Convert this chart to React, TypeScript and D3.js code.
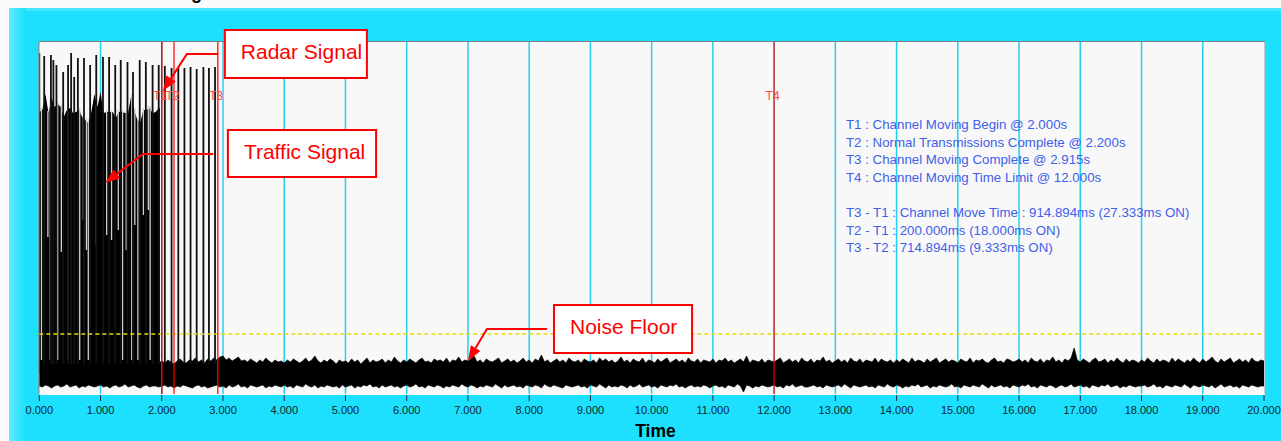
import React from 'react';
import * as d3 from 'd3';

const W = 1281;
const H = 441;

// x axis: time in seconds
const xTicks = [0, 1, 2, 3, 4, 5, 6, 7, 8, 9, 10, 11, 12, 13, 14, 15, 16, 17, 18, 19, 20];

// level of the dashed detection threshold (arbitrary level units, 0..352)
const thresholdLevel = 60;

// time markers
const markerNames = ['T1', 'T2', 'T3', 'T4'];
const markerTimes = [2.0, 2.2, 2.915, 12.0];
const markerOpacity = [1, 0.8, 0.85, 0.75];

// noise floor envelope, one sample every 0.05 s from 0 to 20 s
const noiseStep = 0.05;
const noiseTop = [
  31, 33, 30, 32, 34, 31, 30, 33, 32, 31, 34, 30, 32, 33, 31, 30, 32, 35, 31, 33,
  30, 32, 34, 31, 33, 30, 32, 31, 35, 32, 30, 33, 31, 34, 32, 30, 31, 33, 32, 31,
  33, 31, 34, 32, 30, 33, 35, 32, 31, 34, 33, 36, 32, 34, 31, 35, 33, 36, 34, 37,
  38, 34, 36, 33, 35, 37, 33, 34, 32, 35, 33, 31, 34, 32, 36, 33, 31, 34, 32, 33,
  31, 34, 32, 35, 33, 31, 33, 36, 32, 34, 38, 33, 31, 34, 32, 35, 33, 30, 34, 32,
  33, 31, 35, 32, 34, 30, 33, 36, 31, 34, 32, 33, 35, 31, 34, 32, 37, 33, 31, 34,
  32, 35, 33, 31, 34, 36, 32, 33, 31, 35, 33, 34, 32, 36, 31, 34, 33, 37, 32, 34,
  33, 35, 38, 32, 34, 31, 35, 33, 32, 34, 36, 31, 33, 35, 32, 34, 31, 33, 36, 32,
  34, 31, 35, 33, 39, 32, 34, 31, 33, 35, 32, 34, 31, 36, 33, 32, 34, 31, 35, 33,
  32, 34, 31, 36, 33, 35, 32, 34, 31, 33, 37, 32, 34, 31, 35, 33, 32, 36, 31, 34,
  33, 31, 35, 32, 34, 36, 31, 33, 35, 32, 34, 31, 36, 33, 32, 35, 31, 34, 33, 32,
  35, 31, 34, 33, 36, 32, 34, 31, 33, 35, 32, 38, 31, 34, 33, 32, 35, 31, 34, 33,
  32, 34, 36, 31, 33, 35, 32, 34, 31, 36, 33, 32, 35, 31, 34, 33, 37, 32, 34, 31,
  33, 35, 32, 34, 31, 36, 33, 32, 35, 31, 34, 33, 32, 36, 31, 35, 33, 32, 34, 31,
  34, 32, 35, 33, 31, 36, 32, 34, 33, 31, 35, 32, 34, 36, 31, 33, 35, 32, 34, 33,
  31, 35, 33, 32, 36, 31, 34, 33, 35, 32, 31, 34, 36, 32, 33, 31, 35, 34, 32, 33,
  35, 32, 34, 31, 36, 33, 32, 35, 31, 34, 33, 37, 32, 34, 31, 35, 33, 36, 46, 34,
  32, 35, 33, 31, 34, 36, 32, 33, 35, 31, 34, 32, 36, 33, 31, 35, 32, 34, 33, 31,
  34, 32, 36, 33, 31, 35, 32, 34, 33, 31, 36, 32, 35, 33, 31, 34, 32, 36, 33, 31,
  35, 32, 34, 37, 33, 31, 35, 32, 34, 36, 31, 33, 35, 32, 34, 31, 36, 33, 32, 34,
  33,
];
const noiseBottom = [
  8, 7, 9, 8, 6, 8, 9, 7, 8, 10, 7, 8, 9, 6, 8, 7, 9, 8, 7, 8,
  9, 7, 8, 6, 8, 9, 7, 8, 10, 7, 8, 9, 7, 6, 8, 9, 7, 8, 8, 7,
  8, 9, 7, 8, 6, 8, 7, 9, 8, 7, 6, 8, 9, 7, 8, 6, 7, 8, 9, 7,
  8, 6, 9, 7, 8, 10, 7, 8, 6, 9, 8, 7, 8, 9, 6, 8, 7, 9, 8, 7,
  9, 7, 8, 6, 9, 8, 7, 10, 8, 7, 9, 6, 8, 7, 9, 8, 7, 8, 6, 9,
  7, 8, 9, 6, 8, 7, 9, 8, 10, 7, 8, 6, 9, 7, 8, 9, 7, 8, 6, 8,
  9, 7, 8, 10, 7, 8, 6, 9, 8, 7, 9, 8, 6, 8, 7, 9, 8, 7, 10, 8,
  7, 9, 8, 6, 8, 7, 9, 8, 7, 10, 8, 6, 9, 7, 8, 9, 7, 8, 6, 9,
  8, 7, 9, 8, 6, 10, 8, 7, 9, 8, 7, 6, 9, 8, 7, 8, 9, 7, 8, 6,
  9, 8, 7, 10, 8, 6, 9, 7, 8, 7, 9, 8, 6, 9, 7, 8, 10, 7, 8, 9,
  7, 8, 6, 9, 8, 7, 9, 8, 10, 7, 8, 6, 8, 9, 7, 8, 7, 9, 8, 6,
  8, 9, 7, 8, 6, 9, 8, 7, 10, 8, 2, 9, 8, 6, 8, 7, 9, 8, 7, 8,
  9, 7, 8, 6, 9, 8, 10, 7, 8, 9, 7, 7, 8, 9, 7, 8, 6, 9, 8, 7,
  8, 9, 7, 10, 8, 6, 9, 8, 7, 8, 9, 7, 8, 6, 9, 8, 7, 10, 8, 7,
  9, 8, 6, 8, 7, 9, 8, 10, 7, 8, 9, 6, 8, 7, 9, 8, 7, 8, 10, 7,
  8, 6, 9, 8, 7, 9, 8, 7, 10, 8, 6, 9, 7, 8, 9, 7, 8, 6, 9, 8,
  7, 9, 8, 10, 7, 8, 6, 9, 8, 7, 9, 8, 6, 8, 9, 7, 8, 10, 7, 8,
  9, 7, 8, 6, 9, 8, 7, 9, 8, 10, 7, 8, 9, 6, 8, 7, 9, 8, 7, 8,
  8, 9, 7, 8, 10, 7, 8, 6, 9, 8, 7, 9, 8, 7, 10, 8, 6, 9, 8, 7,
  9, 8, 7, 9, 6, 8, 10, 7, 8, 9, 7, 8, 6, 9, 8, 7, 9, 8, 7, 8,
  8,
];

// traffic burst envelope, one sample every 0.05 s from 0 s
const trafficStep = 0.05;
const trafficTop = [
  282, 284, 300, 281, 296, 287, 290, 287, 277, 284,
  286, 281, 282, 284, 277, 274, 271, 282, 300, 287,
  302, 281, 282, 282, 282, 276, 282, 282, 281, 281,
  298, 284, 274, 272, 284, 284, 286, 281, 282, 286,
];
const trafficEnd = 1.97;

// short pauses inside the traffic (time, lowest level reached)
const gapTimes = [0.035, 0.14, 0.18, 0.30, 0.36, 0.47, 0.66, 0.72, 0.77, 0.80, 0.93, 1.10, 1.18, 1.29, 1.36, 1.42, 1.51, 1.56, 1.61, 1.70, 1.78, 1.81];
const gapDepth = [34, 157, 34, 34, 142, 34, 34, 174, 144, 34, 149, 159, 154, 164, 34, 144, 34, 169, 34, 179, 184, 34];

// radar pulses (time, peak level)
const radarTimes = [
  0.0, 0.08, 0.19, 0.23, 0.28, 0.39, 0.47, 0.52, 0.57, 0.63, 0.73, 0.83, 0.93,
  1.04, 1.14, 1.24, 1.33, 1.44, 1.53, 1.64, 1.74, 1.85, 1.95,
  2.05, 2.16, 2.27, 2.37, 2.47, 2.57, 2.68, 2.77, 2.87,
];
const radarPeaks = [
  341, 338, 339, 334, 329, 322, 329, 341, 317, 336, 336, 329, 339,
  337, 337, 329, 334, 332, 322, 334, 332, 329, 329,
  328, 326, 327, 326, 327, 325, 327, 326, 327,
];

const summaryLines = [
  'T1 : Channel Moving Begin @ 2.000s',
  'T2 : Normal Transmissions Complete @ 2.200s',
  'T3 : Channel Moving Complete @ 2.915s',
  'T4 : Channel Moving Time Limit @ 12.000s',
  '',
  'T3 - T1 : Channel Move Time : 914.894ms (27.333ms ON)',
  'T2 - T1 : 200.000ms (18.000ms ON)',
  'T3 - T2 : 714.894ms (9.333ms ON)',
];

// callouts in data coordinates: box [t0, t1, levelTop, levelBottom], arrow path ending at tip
const callouts = [
  { label: 'Radar Signal', box: [3.03, 5.35, 364, 316], path: [[2.92, 340], [2.41, 340], [2.02, 303]] },
  { label: 'Traffic Signal', box: [3.08, 5.50, 264, 217], path: [[2.84, 240], [1.69, 240], [1.075, 211]] },
  { label: 'Noise Floor', box: [8.405, 10.66, 89, 41], path: [[8.29, 65], [7.31, 65], [7.0, 33]] },
];

const FONT = '"Liberation Sans", Arial, sans-serif';
const CYAN = '#1ce0fd';
const RED = '#ff0000';

const App: React.FC = () => {
  const plot = { left: 39.3, right: 1264, top: 42, bottom: 394 };
  const x = d3.scaleLinear().domain([0, 20]).range([plot.left, plot.right]);
  const y = d3.scaleLinear().domain([0, 352]).range([plot.bottom, plot.top]);

  const noiseArea = d3.area<number>()
    .x((_, i) => x(i * noiseStep))
    .y0((_, i) => y(noiseBottom[i]))
    .y1(d => y(d))(noiseTop) || '';

  const trafficPts: [number, number][] = trafficTop.map((v, i) => [i * trafficStep, v]);
  trafficPts.push([trafficEnd, trafficTop[trafficTop.length - 1]]);
  const trafficArea = d3.area<[number, number]>()
    .x(d => x(d[0]))
    .y0(y(20))
    .y1(d => y(d[1]))(trafficPts) || '';

  const arrowHead = (p: number[], t: number[]) => {
    const px = x(p[0]), py = y(p[1]), tx = x(t[0]), ty = y(t[1]);
    const len = Math.hypot(tx - px, ty - py);
    const ux = (tx - px) / len, uy = (ty - py) / len;
    const L = 15, hw = 5.5;
    const bx = tx - ux * L, by = ty - uy * L;
    return {
      base: [bx, by],
      poly: `${tx},${ty} ${bx - uy * hw},${by + ux * hw} ${bx + uy * hw},${by - ux * hw}`,
    };
  };

  return (
    <svg
      width={W}
      height={H}
      style={{ position: 'absolute', left: 0, top: 0, background: '#fafafa' }}
      fontFamily={FONT}
    >
      <defs>
        <linearGradient id="panel-left" x1="0" x2="1" y1="0" y2="0">
          <stop offset="0%" stopColor="#63ebfd" />
          <stop offset="100%" stopColor={CYAN} />
        </linearGradient>
        <clipPath id="plot-clip">
          <rect x={plot.left} y={plot.top} width={plot.right - plot.left} height={plot.bottom - plot.top} />
        </clipPath>
      </defs>

      {/* title, cut off at the top of the page */}
      <text x={202} y={-1} textAnchor="end" fontSize={18} fontWeight="bold" fill="#000">Channel Closing</text>

      {/* panel */}
      <rect x={9} y={8} width={W - 9} height={H - 8} fill={CYAN} />
      <rect x={9} y={8} width={W - 9} height={3} fill="#45e6fd" />
      <rect x={9} y={8} width={17} height={H - 8} fill="url(#panel-left)" />

      {/* plot background */}
      <rect x={plot.left} y={plot.top} width={plot.right - plot.left} height={plot.bottom - plot.top} fill="#f8f8f8" />

      {/* vertical grid */}
      {xTicks.slice(1, -1).map(t => (
        <line key={t} x1={x(t)} x2={x(t)} y1={plot.top} y2={plot.bottom} stroke="#22d0f2" strokeWidth={1.5} />
      ))}

      <g clipPath="url(#plot-clip)">
        {/* noise floor */}
        <path d={noiseArea} fill="#000" stroke="#000" strokeWidth={0.7} strokeLinejoin="miter" strokeMiterlimit={10} />

        {/* traffic bursts */}
        <path d={trafficArea} fill="#000" />
        {gapTimes.map((t, i) => {
          const k = Math.min(trafficTop.length - 1, Math.round(t / trafficStep));
          return (
            <line key={`g${i}`} x1={x(t)} x2={x(t)} y1={y(trafficTop[k] + 2)} y2={y(gapDepth[i])}
              stroke="#cfcfcf" strokeWidth={1.3} />
          );
        })}

        {/* radar pulses */}
        {radarTimes.map((t, i) => (
          <line key={`r${i}`} x1={x(t)} x2={x(t)} y1={y(30)} y2={y(radarPeaks[i])}
            stroke="#111" strokeWidth={1.8} />
        ))}

        {/* threshold */}
        <line x1={plot.left} x2={plot.right} y1={y(thresholdLevel)} y2={y(thresholdLevel)}
          stroke="#e8dc00" strokeWidth={1.4} strokeDasharray="4,3" />

        {/* time markers */}
        {markerTimes.map((t, i) => (
          <line key={`m${i}`} x1={x(t)} x2={x(t)} y1={plot.top} y2={plot.bottom}
            stroke={RED} strokeWidth={1.5} strokeOpacity={markerOpacity[i]} />
        ))}
        {markerTimes.map((t, i) => (
          <text key={`ml${i}`} x={x(t) - 1.5} y={y(294)} textAnchor="middle" fontSize={12}
            fill="#ff4a4a">{markerNames[i]}</text>
        ))}
      </g>

      {/* plot frame */}
      <line x1={plot.left} x2={plot.right + 1} y1={plot.top - 0.5} y2={plot.top - 0.5} stroke="#7c7c7c" />
      <line x1={plot.left - 0.5} x2={plot.left - 0.5} y1={plot.top} y2={plot.bottom} stroke="#8a8a8a" />
      <line x1={plot.right + 0.5} x2={plot.right + 0.5} y1={plot.top} y2={plot.bottom} stroke="#c8c8c8" />
      <line x1={plot.left} x2={plot.right + 1} y1={plot.bottom + 0.5} y2={plot.bottom + 0.5} stroke="#ffffff" />
      <rect x={plot.right + 1} y={plot.top - 1} width={W - plot.right - 1} height={H - plot.top + 1} fill={CYAN} />

      {/* x axis */}
      {xTicks.map(t => (
        <g key={`t${t}`}>
          <line x1={x(t)} x2={x(t)} y1={plot.bottom + 1} y2={plot.bottom + 7} stroke="#1a2f38" strokeWidth={1} />
          <text x={x(t)} y={413.5} textAnchor="middle" fontSize={11} fill="#0a2630">{d3.format('.3f')(t)}</text>
        </g>
      ))}
      <text x={655.5} y={437} textAnchor="middle" fontSize={17.5} fontWeight="bold" fill="#000">Time</text>

      {/* summary text */}
      {summaryLines.map((s, i) => (
        <text key={`s${i}`} x={846} y={129 + i * 17.6} fontSize={13.3} fill="#3f5fea">{s}</text>
      ))}

      {/* callouts */}
      {callouts.map(c => {
        const [t0, t1, vTop, vBot] = c.box;
        const bx = x(t0), by = y(vTop), bw = x(t1) - x(t0), bh = y(vBot) - y(vTop);
        const n = c.path.length;
        const head = arrowHead(c.path[n - 2], c.path[n - 1]);
        const pts = c.path.slice(0, n - 1).map(p => [x(p[0]), y(p[1])]);
        pts.push(head.base);
        return (
          <g key={c.label}>
            <polyline points={pts.map(p => p.join(',')).join(' ')} fill="none" stroke={RED} strokeWidth={2} />
            <polygon points={head.poly} fill={RED} />
            <rect x={bx} y={by} width={bw} height={bh} fill="#fff" stroke={RED} strokeWidth={2} />
            <text x={bx + 16} y={by + 28.5} fontSize={21} fill={RED}>{c.label}</text>
          </g>
        );
      })}
    </svg>
  );
};

export default App;
